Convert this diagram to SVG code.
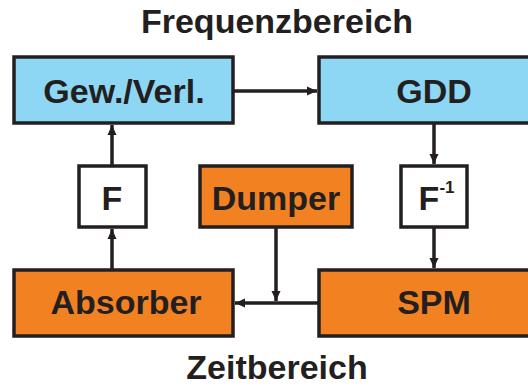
<svg xmlns="http://www.w3.org/2000/svg" width="528" height="388" viewBox="0 0 528 388">
<style>
.box{stroke:#231f20;stroke-width:3.5}
.blue{fill:#8dd7f5}
.orange{fill:#f28121}
.white{fill:#ffffff}
.t{font-family:"Liberation Sans",Arial,sans-serif;font-weight:bold;font-size:34px;fill:#231f20;text-anchor:middle}
.c{stroke:#231f20;stroke-width:3.5;fill:none}
</style>
<defs>
<marker id="ah" viewBox="0 0 10 10" refX="10" refY="5" markerWidth="10" markerHeight="10" markerUnits="userSpaceOnUse" orient="auto">
<path d="M0,0.5 L10,5 L0,9.5 Z" fill="#231f20"/>
</marker>
</defs>
<text class="t" x="277" y="33">Frequenzbereich</text>
<text class="t" x="277" y="379">Zeitbereich</text>
<g id="gewverl"><rect class="box blue" x="14" y="57" width="219" height="66"/><text class="t" x="124" y="103">Gew./Verl.</text></g>
<g id="gdd"><rect class="box blue" x="319" y="57" width="215" height="66"/><text class="t" x="434" y="103">GDD</text></g>
<g id="f"><rect class="box white" x="79" y="166" width="67" height="61"/><text class="t" x="112" y="210">F</text></g>
<g id="dumper"><rect class="box orange" x="200" y="166" width="152" height="61"/><text class="t" x="276" y="210">Dumper</text></g>
<g id="finv"><rect class="box white" x="401" y="166" width="66" height="61"/><text class="t" x="429" y="210">F</text><text class="t" x="447" y="193" style="font-size:17px">-1</text></g>
<g id="absorber"><rect class="box orange" x="14" y="270" width="219" height="66"/><text class="t" x="126" y="314">Absorber</text></g>
<g id="spm"><rect class="box orange" x="319" y="270" width="215" height="66"/><text class="t" x="434" y="314">SPM</text></g>
<g id="connectors">
<line class="c" x1="233" y1="91" x2="317" y2="91" marker-end="url(#ah)"/>
<line class="c" x1="434" y1="123" x2="434" y2="164" marker-end="url(#ah)"/>
<line class="c" x1="434" y1="227" x2="434" y2="268" marker-end="url(#ah)"/>
<line class="c" x1="112" y1="166" x2="112" y2="125" marker-end="url(#ah)"/>
<line class="c" x1="112" y1="270" x2="112" y2="229" marker-end="url(#ah)"/>
<line class="c" x1="276" y1="227" x2="276" y2="301" marker-end="url(#ah)"/>
<line class="c" x1="319" y1="303" x2="235" y2="303" marker-end="url(#ah)"/>
</g>
</svg>
